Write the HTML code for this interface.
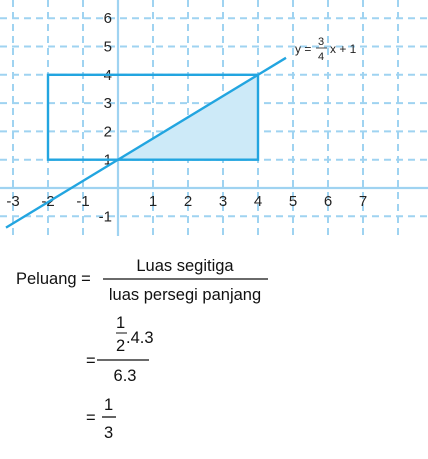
<!DOCTYPE html>
<html><head><meta charset="utf-8"><style>
body{margin:0;background:#fff;width:428px;height:454px;overflow:hidden}
svg text{font-family:"Liberation Sans",sans-serif}
</style></head><body>
<svg id="c" width="428" height="454">
<g id="grid"></g>
<g id="marks"></g>
<g font-size="12" fill="#222">
<text x="295" y="53">y =</text>
<text x="318" y="45" font-size="11">3</text>
<line x1="316" y1="48" x2="327" y2="48" stroke="#222" stroke-width="0.8"/>
<text x="318" y="60" font-size="11">4</text>
<text x="330" y="53">x + 1</text>
</g>
<g fill="#111" font-size="16.5">
<text x="16" y="284">Peluang =</text>
<text x="185" y="271" text-anchor="middle">Luas segitiga</text>
<line x1="103" y1="279" x2="268" y2="279" stroke="#111" stroke-width="1.3"/>
<text x="185" y="300" text-anchor="middle">luas persegi panjang</text>
<text x="86" y="366">=</text>
<text x="116" y="328">1</text>
<line x1="116" y1="333" x2="127" y2="333" stroke="#111" stroke-width="1"/>
<text x="116" y="351">2</text>
<text x="126" y="343">.4.3</text>
<line x1="97" y1="360" x2="149" y2="360" stroke="#111" stroke-width="1.3"/>
<text x="125" y="381" text-anchor="middle">6.3</text>
<text x="86" y="423">=</text>
<text x="104" y="410">1</text>
<line x1="102" y1="417" x2="116" y2="417" stroke="#111" stroke-width="1.3"/>
<text x="104" y="438">3</text>
</g>
</svg>
<script>
const xTicks=[-3,-2,-1,1,2,3,4,5,6,7];
const yTicks=[-1,1,2,3,4,5,6];
const rectX=[-2,4];
const rectY=[1,4];
const slope=[3/4];
const intercept=[1];
const lineRange=[-3.2,4.8];
const NS="http://www.w3.org/2000/svg";
const X=v=>118+v*35, Y=v=>188-v*28.3;
const svg=document.getElementById('c'),grid=document.getElementById('grid'),marks=document.getElementById('marks');
function mk(t,a,p){const e=document.createElementNS(NS,t);for(const k in a)e.setAttribute(k,a[k]);(p||grid).appendChild(e);return e;}
for(let v=-3;v<=8;v++){if(v===0)continue;
const l=mk('line',{x1:X(v),y1:0,x2:X(v),y2:236,stroke:'#9fd3f1','stroke-width':2,'stroke-dasharray':'7,5'});

}
for(let v=-1;v<=7;v++){if(v===0)continue;
const l=mk('line',{x1:0,y1:Y(v),x2:428,y2:Y(v),stroke:'#9fd3f1','stroke-width':2,'stroke-dasharray':'7,5'});

}
let a=mk('line',{x1:0,y1:Y(0),x2:428,y2:Y(0),stroke:'#9fd3f1','stroke-width':2.2});


a=mk('line',{x1:X(0),y1:0,x2:X(0),y2:236,stroke:'#9fd3f1','stroke-width':2.2});


xTicks.forEach(v=>{const t=mk('text',{x:X(v),y:206,'text-anchor':'middle','font-size':15,fill:'#222'});t.textContent=v;

});
yTicks.forEach(v=>{const t=mk('text',{x:X(0)-6,y:Y(v)+5,'text-anchor':'end','font-size':15,fill:'#222'});t.textContent=v;

});
const m=slope[0],b=intercept[0];
const x0=(rectY[0]-b)/m;
const tri=mk('polygon',{points:`${X(x0)},${Y(rectY[0])} ${X(rectX[1])},${Y(rectY[0])} ${X(rectX[1])},${Y(m*rectX[1]+b)}`,fill:'#cdeaf8'},marks);


const r=mk('rect',{x:X(rectX[0]),y:Y(rectY[1]),width:X(rectX[1])-X(rectX[0]),height:Y(rectY[0])-Y(rectY[1]),fill:'none',stroke:'#22a5e0','stroke-width':2.4},marks);


const ln=mk('line',{x1:X(lineRange[0]),y1:Y(m*lineRange[0]+b),x2:X(lineRange[1]),y2:Y(m*lineRange[1]+b),stroke:'#22a5e0','stroke-width':2.4},marks);


</script>
</body></html>
